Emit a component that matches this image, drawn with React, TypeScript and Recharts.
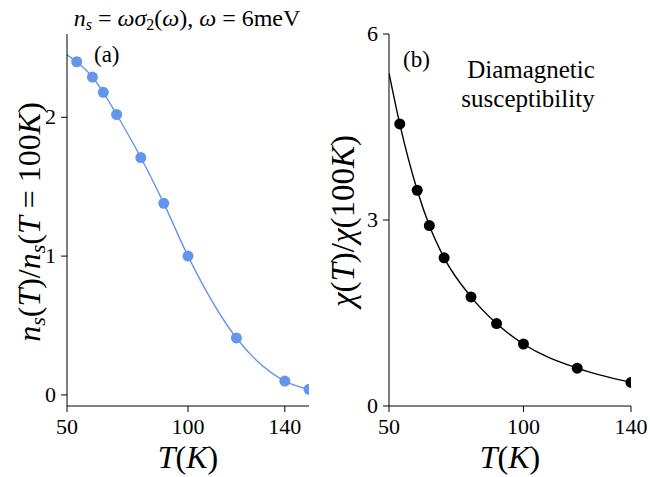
import { ComposedChart, Line, Scatter, XAxis, YAxis, Label } from "recharts";

const tempA = [54, 60.5, 65, 70.5, 80.5, 90, 100, 120, 140, 150];
const nsRatio = [2.4, 2.29, 2.18, 2.02, 1.71, 1.38, 1.0, 0.41, 0.1, 0.04];
const tempB = [54, 60.5, 65, 70.5, 80.5, 90, 100, 120, 140];
const chiRatio = [4.55, 3.48, 2.91, 2.39, 1.76, 1.33, 1.0, 0.61, 0.38];
// fitted curves start at the left edge of each panel
const nsCurveStart = 2.45;
const chiCurveStart = 5.37;
const ticksA = [50, 100, 140];
const ticksB = [50, 100, 140];
const yTicksA = [0, 1, 2];
const yTicksB = [0, 3, 6];

const pointsA = tempA.map((x, i) => ({ x, y: nsRatio[i] }));
const curveA = [{ x: 50, y: nsCurveStart }, ...pointsA];
const pointsB = tempB.map((x, i) => ({ x, y: chiRatio[i] }));
const curveB = [{ x: 50, y: chiCurveStart }, ...pointsB];

const serif = "Liberation Serif";
const font = { fontFamily: serif };
const blue = "#6495ED";

const dot = (color: string) => (p: any) => <circle cx={p.cx} cy={p.cy} r={5.5} fill={color} />;

const XTick = ({ x, y, payload }: any) => (
  <text x={x} y={y + 20} textAnchor="middle" fontSize={22} fill="#000" style={font}>{payload.value}</text>
);
const YTick = ({ x, y, payload }: any) => (
  <text x={x} y={y + 7} textAnchor="end" fontSize={22} fill="#000" style={font}>{payload.value}</text>
);

const XLabel = ({ cx }: { cx: number }) => (
  <text x={cx} y={468} textAnchor="middle" fontSize={32} fill="#000" style={font}>
    <tspan fontStyle="italic">T</tspan>
    <tspan>(</tspan>
    <tspan fontStyle="italic">K</tspan>
    <tspan>)</tspan>
  </text>
);

const TitleA = () => (
  <text x={187} y={26} textAnchor="middle" fontSize={24} fill="#000" style={font}>
    <tspan fontStyle="italic">n</tspan>
    <tspan fontStyle="italic" fontSize={16} dy={4}>s</tspan>
    <tspan dy={-4}> = </tspan>
    <tspan fontStyle="italic">ωσ</tspan>
    <tspan fontSize={16} dy={4}>2</tspan>
    <tspan dy={-4}>(</tspan>
    <tspan fontStyle="italic">ω</tspan>
    <tspan>), </tspan>
    <tspan fontStyle="italic">ω</tspan>
    <tspan> = 6meV</tspan>
  </text>
);

const YLabelA = () => (
  <text x={40} y={222} transform="rotate(-90 40 222)" textAnchor="middle" fontSize={32} fill="#000" style={font}>
    <tspan fontStyle="italic">n</tspan>
    <tspan fontStyle="italic" fontSize={22} dy={5}>s</tspan>
    <tspan dy={-5}>(</tspan>
    <tspan fontStyle="italic">T</tspan>
    <tspan>)/</tspan>
    <tspan fontStyle="italic">n</tspan>
    <tspan fontStyle="italic" fontSize={22} dy={5}>s</tspan>
    <tspan dy={-5}>(</tspan>
    <tspan fontStyle="italic">T</tspan>
    <tspan> = 100</tspan>
    <tspan fontStyle="italic">K</tspan>
    <tspan>)</tspan>
  </text>
);

const YLabelB = () => (
  <text x={354} y={221} transform="rotate(-90 354 221)" textAnchor="middle" fontSize={33} fill="#000" style={font}>
    <tspan fontStyle="italic">χ</tspan>
    <tspan>(</tspan>
    <tspan fontStyle="italic">T</tspan>
    <tspan>)/</tspan>
    <tspan fontStyle="italic">χ</tspan>
    <tspan>(100</tspan>
    <tspan fontStyle="italic">K</tspan>
    <tspan>)</tspan>
  </text>
);

function PanelA() {
  return (
    <ComposedChart width={325} height={477} margin={{ top: 34, right: 16, left: 0, bottom: 0 }}>
      <XAxis xAxisId="top" orientation="top" type="number" dataKey="x" domain={[50, 150]} tick={false} tickLine={false} height={0} stroke="#000" />
      <YAxis yAxisId="right" orientation="right" type="number" domain={[-0.08, 2.6]} tick={false} tickLine={false} width={0} stroke="#000" />
      <XAxis type="number" dataKey="x" domain={[50, 150]} ticks={ticksA} allowDataOverflow height={71} stroke="#000" tickSize={6} tick={<XTick />}>
        <Label content={() => <XLabel cx={188} />} />
      </XAxis>
      <YAxis type="number" domain={[-0.08, 2.6]} ticks={yTicksA} allowDataOverflow width={67} stroke="#000" tickSize={6} tickMargin={5} tick={<YTick />}>
        <Label content={() => <g><YLabelA /><TitleA /></g>} />
      </YAxis>
      <Line data={curveA} dataKey="y" type="monotone" stroke={blue} strokeWidth={1.4} dot={false} isAnimationActive={false} />
      <Scatter data={pointsA} dataKey="y" fill={blue} shape={dot(blue)} isAnimationActive={false} />
      <text x={94} y={62} fontSize={23} fill="#000" style={font}>(a)</text>
    </ComposedChart>
  );
}

function PanelB() {
  return (
    <ComposedChart width={325} height={477} margin={{ top: 34, right: 19, left: 0, bottom: 0 }}>
      <XAxis xAxisId="top" orientation="top" type="number" dataKey="x" domain={[50, 140]} tick={false} tickLine={false} height={0} stroke="#000" />
      <YAxis yAxisId="right" orientation="right" type="number" domain={[0, 6]} tick={false} tickLine={false} width={0} stroke="#000" />
      <XAxis type="number" dataKey="x" domain={[50, 140]} ticks={ticksB} allowDataOverflow height={71} stroke="#000" tickSize={6} tick={<XTick />}>
        <Label content={() => <XLabel cx={185} />} />
      </XAxis>
      <YAxis type="number" domain={[0, 6]} ticks={yTicksB} allowDataOverflow width={64} stroke="#000" tickSize={6} tickMargin={5} tick={<YTick />}>
        <Label content={() => (
          <g transform="translate(-325 0)">
            <YLabelB />
            <text x={403} y={67} fontSize={23} fill="#000" style={font}>(b)</text>
            <text x={531} y={78} textAnchor="middle" fontSize={25} fill="#000" style={font}>Diamagnetic</text>
            <text x={528} y={107} textAnchor="middle" fontSize={25} fill="#000" style={font}>susceptibility</text>
          </g>
        )} />
      </YAxis>
      <Line data={curveB} dataKey="y" type="monotone" stroke="#000" strokeWidth={1.4} dot={false} isAnimationActive={false} />
      <Scatter data={pointsB} dataKey="y" fill="#000" shape={dot("#000")} isAnimationActive={false} />
    </ComposedChart>
  );
}

export default function App() {
  return (
    <div style={{ position: "absolute", left: 0, top: 0, width: 650, height: 477, background: "#fff", display: "flex", fontFamily: serif }}>
      <PanelA />
      <PanelB />
    </div>
  );
}
